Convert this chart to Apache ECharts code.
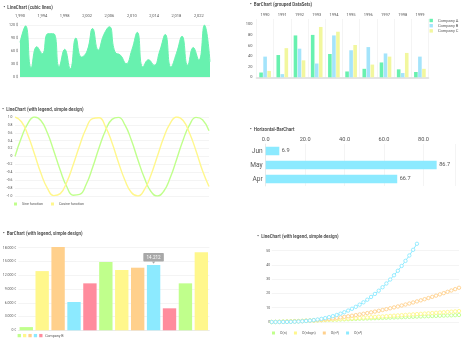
<!DOCTYPE html>
<html>
<head>
<meta charset="utf-8">
<script src="https://cdn.jsdelivr.net/npm/echarts@6/dist/echarts.min.js"></script>
<style>
  html, body { margin: 0; padding: 0; background: #ffffff; }
  #chart { width: 470px; height: 345px; }
</style>
</head>
<body>
<div id="chart"></div>
<script>
// ---- cubic area chart ----
const cubicYears = [1990, 1991, 1992, 1993, 1994, 1995, 1996, 1997, 1998, 1999,
  2000, 2001, 2002, 2003, 2004, 2005, 2006, 2007, 2008, 2009,
  2010, 2011, 2012, 2013, 2014, 2015, 2016, 2017, 2018, 2019,
  2020, 2021, 2022, 2023, 2024];
const cubicValues = [80, 118, 21, 70, 54, 100, 100, 24, 64, 19,
  90, 46, 60, 112, 62, 98, 116, 58, 50, 31,
  62, 103, 23, 40, 27, 60, 98, 23, 55, 94,
  27, 68, 39, 120, 35];

// ---- grouped bar chart ----
const groupYears = ['1990', '1991', '1992', '1993', '1994', '1995', '1996', '1997', '1998', '1999'];
const companyA = [9, 42, 79, 80, 44, 11, 16, 28, 15, 10];
const companyB = [39, 6, 54, 26, 79, 51, 57, 45, 8, 39];
const companyC = [12, 55, 32, 95, 86, 61, 24, 39, 46, 16];

// ---- sine / cosine ----
const waveX = [0, 0.5, 1, 1.5, 2, 2.5, 3, 3.5, 4, 4.5, 5, 5.5, 6, 6.5, 7, 7.5,
  8, 8.5, 9, 9.5, 10, 10.5, 11, 11.5, 12, 12.5, 13, 13.5, 14, 14.5, 15];
const sineValues = [0, 0.48, 0.84, 1.0, 0.91, 0.6, 0.14, -0.35, -0.76, -0.98, -0.96, -0.71,
  -0.28, 0.22, 0.66, 0.94, 0.99, 0.8, 0.41, -0.08, -0.54, -0.88, -1.0, -0.88,
  -0.54, -0.07, 0.42, 0.8, 0.99, 0.93, 0.65];
const cosineValues = [1.0, 0.88, 0.54, 0.07, -0.42, -0.8, -0.99, -0.94, -0.65, -0.21, 0.28, 0.71,
  0.96, 0.98, 0.75, 0.35, -0.15, -0.6, -0.91, -1.0, -0.84, -0.48, 0.0, 0.48,
  0.84, 1.0, 0.91, 0.59, 0.14, -0.36, -0.76];

// ---- horizontal bars ----
const monthNames = ['Apr', 'May', 'Jun'];
const monthValues = [66.7, 86.7, 6.9];

// ---- bar chart with legend ----
const salesSlots = ['1', '2', '3', '4', '5', '6', '7', '8', '9', '10', '11', '12'];
const salesValues = [700, 12900, 18140, 6170, 10230, 14880, 13140, 13640, 14212, 4790, 10230, 16980];
const highlightedSlot = 8;

// ---- complexity curves ----
const complexityN = [0, 1, 2, 3, 4, 5, 6, 7, 8, 9, 10, 11, 12, 13, 14, 15, 16, 17, 18, 19,
  20, 21, 22, 23, 24, 25, 26, 27, 28, 29, 30, 31, 32, 33, 34, 35, 36, 37, 38, 39,
  40, 41, 42, 43, 44, 45, 46, 47, 48, 49];
const linearValues = [0, 0.1, 0.2, 0.3, 0.4, 0.5, 0.6, 0.7, 0.8, 0.9, 1, 1.1, 1.2, 1.3, 1.4, 1.5,
  1.6, 1.7, 1.8, 1.9, 2, 2.1, 2.2, 2.3, 2.4, 2.5, 2.6, 2.7, 2.8, 2.9, 3, 3.1, 3.2, 3.3,
  3.4, 3.5, 3.6, 3.7, 3.8, 3.9, 4, 4.1, 4.2, 4.3, 4.4, 4.5, 4.6, 4.7, 4.8, 4.9];
const nlognValues = [0, 0, 0.06, 0.13, 0.22, 0.32, 0.43, 0.55, 0.67, 0.79, 0.92, 1.06, 1.19,
  1.33, 1.48, 1.63, 1.77, 1.93, 2.08, 2.24, 2.4, 2.56, 2.72, 2.89, 3.05, 3.22, 3.39,
  3.56, 3.73, 3.91, 4.08, 4.26, 4.44, 4.62, 4.8, 4.98, 5.16, 5.34, 5.53, 5.72, 5.9,
  6.09, 6.28, 6.47, 6.66, 6.85, 7.05, 7.24, 7.43, 7.63];
const squareValues = [0, 0.01, 0.04, 0.09, 0.16, 0.25, 0.36, 0.49, 0.64, 0.81, 1, 1.21, 1.44,
  1.69, 1.96, 2.25, 2.56, 2.89, 3.24, 3.61, 4, 4.41, 4.84, 5.29, 5.76, 6.25, 6.76,
  7.29, 7.84, 8.41, 9, 9.61, 10.24, 10.89, 11.56, 12.25, 12.96, 13.69, 14.44, 15.21,
  16, 16.81, 17.64, 18.49, 19.36, 20.25, 21.16, 22.09, 23.04, 24.01];
const cubeValues = [0, 0.001, 0.008, 0.027, 0.064, 0.125, 0.216, 0.343, 0.512, 0.729, 1,
  1.331, 1.728, 2.197, 2.744, 3.375, 4.096, 4.913, 5.832, 6.859, 8, 9.261, 10.648,
  12.167, 13.824, 15.625, 17.576, 19.683, 21.952, 24.389, 27, 29.791, 32.768, 35.937,
  39.304, 42.875, 46.656, 50.653, 54.872];
const complexityNames = ['O(n)', 'O(nlogn)', 'O(n\u00B2)', 'O(n\u00B3)'];

// palette
const GREEN = 'rgb(104,241,175)';
const BLUE = 'rgb(164,228,251)';
const YELLOW = 'rgb(242,247,158)';
const PASTEL = ['rgb(192,255,140)', 'rgb(255,247,140)', 'rgb(255,208,140)', 'rgb(140,234,255)', 'rgb(255,140,157)'];
const GRID_LINE = '#ececec';
const LABEL = '#555555';
const FONT = 'Roboto';

const pairs = (xs, ys) => ys.map((y, i) => [xs[i], y]);
const thousands = v => String(Math.round(v)).replace(/\B(?=(\d{3})+(?!\d))/g, '.');

const smallLabel = size => ({ fontSize: size, color: LABEL, fontFamily: FONT });

// section heading: left edge of the bullet and vertical centre of the line
const HEAD_SIZE = 4.5;
function heading(text, left, centerY) {
  return { text: '\u2022  ' + text, left, top: centerY - HEAD_SIZE * 0.65, padding: 0,
    textStyle: { fontSize: HEAD_SIZE, fontWeight: 600, color: '#444444', fontFamily: FONT } };
}

const option = {
  animation: false,
  backgroundColor: '#ffffff',
  textStyle: { fontFamily: FONT },
  title: [
    heading('LineChart (cubic lines)', 3.5, 8.3),
    heading('BarChart (grouped DataSets)', 250, 5.7),
    heading('LineChart (with legend, simple design)', 2.3, 110),
    heading('Horizontal-BarChart', 250, 130),
    heading('BarChart (with legend, simple design)', 3, 234.3),
    heading('LineChart (with legend, simple design)', 257.3, 237.7)
  ],
  grid: [
    { left: 20, top: 25, width: 190, height: 52, outerBoundsMode: 'none' },
    { left: 256.5, top: 19, width: 172, height: 58.3, outerBoundsMode: 'none' },
    { left: 15, top: 117, width: 194, height: 79, outerBoundsMode: 'none' },
    { left: 265.7, top: 144, width: 189.3, height: 42, outerBoundsMode: 'none' },
    { left: 18.3, top: 243.1, width: 191, height: 87.2, outerBoundsMode: 'none' },
    { left: 271.7, top: 243.6, width: 187.3, height: 78.4, outerBoundsMode: 'none' }
  ],
  legend: [
    { orient: 'vertical', left: 429.5, top: 18.5, icon: 'rect', itemWidth: 3.4, itemHeight: 3.4,
      itemGap: 1.2, padding: 0, textStyle: smallLabel(4),
      data: ['Company A', 'Company B', 'Company C'] },
    { left: 14, top: 202, icon: 'rect', itemWidth: 3, itemHeight: 3, itemGap: 8, padding: 0,
      textStyle: smallLabel(3.6), data: ['Sine function', 'Cosine function'] },
    { left: 272, top: 331, icon: 'rect', itemWidth: 3, itemHeight: 3, itemGap: 7, padding: 0,
      textStyle: smallLabel(3.6),
      data: complexityNames.map((name, i) => ({
        name, itemStyle: { color: PASTEL[i], borderWidth: 0 } })) }
  ],
  xAxis: [
    // 0: years on top
    { gridIndex: 0, type: 'value', position: 'top', min: 1990, max: 2024, interval: 4,
      axisLine: { show: false }, axisTick: { show: false }, splitLine: { show: false },
      axisLabel: Object.assign(smallLabel(4), { margin: 7.5, showMaxLabel: false }) },
    // 1: grouped bar categories
    { gridIndex: 1, type: 'category', position: 'top', data: groupYears,
      axisLine: { show: false }, axisTick: { show: false },
      splitLine: { show: true, interval: 0, lineStyle: { color: GRID_LINE, width: 0.6 } },
      axisLabel: Object.assign(smallLabel(4), { margin: 2, interval: 0 }) },
    // 2: baseline under the grouped bars
    { gridIndex: 1, type: 'category', position: 'bottom', data: groupYears,
      axisLine: { show: true, lineStyle: { color: '#dcdcdc', width: 1.6 } },
      axisTick: { show: false }, axisLabel: { show: false }, splitLine: { show: false } },
    // 3: wave x
    { gridIndex: 2, type: 'value', min: 0, max: 15, show: false },
    // 4: horizontal bar values
    { gridIndex: 3, type: 'value', position: 'top', min: 0, max: 96, interval: 20,
      axisLine: { show: false }, axisTick: { show: false },
      splitLine: { show: true, lineStyle: { color: GRID_LINE, width: 0.6 } },
      axisLabel: Object.assign(smallLabel(5.6), { margin: 1, showMaxLabel: false,
        formatter: v => v.toFixed(1) }) },
    // 5: sales slots
    { gridIndex: 4, type: 'category', data: salesSlots,
      axisLine: { show: true, lineStyle: { color: '#e4e4e4', width: 0.6 } },
      axisTick: { show: false }, axisLabel: { show: false } },
    // 6: complexity n
    { gridIndex: 5, type: 'value', min: 0, max: 49, show: false }
  ],
  yAxis: [
    { gridIndex: 0, type: 'value', min: 0, max: 120, interval: 30,
      axisLine: { show: false }, axisTick: { show: false },
      splitLine: { lineStyle: { color: GRID_LINE, width: 0.6 } },
      axisLabel: Object.assign(smallLabel(3.6), { margin: 2, formatter: v => v + ' $' }) },
    { gridIndex: 1, type: 'value', min: 0, max: 110, interval: 20,
      axisLine: { show: false }, axisTick: { show: false }, splitLine: { show: false },
      axisLabel: Object.assign(smallLabel(4), { margin: 4, showMaxLabel: false }) },
    { gridIndex: 2, type: 'value', min: -1, max: 1, interval: 0.2,
      axisLine: { show: false }, axisTick: { show: false },
      splitLine: { lineStyle: { color: GRID_LINE, width: 0.6 } },
      axisLabel: Object.assign(smallLabel(3.4), { margin: 2.5,
        formatter: v => (Math.abs(v) < 1e-9 ? '0' : v.toFixed(1)) }) },
    { gridIndex: 3, type: 'category', data: monthNames,
      axisLine: { show: true, lineStyle: { color: '#e0e0e0', width: 0.6 } },
      axisTick: { show: false },
      splitLine: { show: false },
      axisLabel: Object.assign(smallLabel(6.6), { margin: 3 }) },
    { gridIndex: 4, type: 'value', min: 0, max: 19000, interval: 3000,
      axisLine: { show: false }, axisTick: { show: false },
      splitLine: { showMaxLine: false, lineStyle: { color: GRID_LINE, width: 0.6 } },
      axisLabel: Object.assign(smallLabel(3.5), { margin: 2, showMaxLabel: false,
        formatter: v => thousands(v) + ' \u20AC' }) },
    { gridIndex: 5, type: 'value', min: 0, max: 55, interval: 10,
      axisLine: { show: false }, axisTick: { show: false },
      splitLine: { showMaxLine: false, lineStyle: { color: GRID_LINE, width: 0.6 } },
      axisLabel: Object.assign(smallLabel(3.5), { margin: 1.5, showMaxLabel: false }) }
  ],
  series: [
    // cubic area
    { type: 'line', xAxisIndex: 0, yAxisIndex: 0, data: pairs(cubicYears, cubicValues),
      smooth: 0.5, symbol: 'none', lineStyle: { color: GREEN, width: 1 },
      areaStyle: { color: GREEN, opacity: 1 } },
    // grouped bars
    { type: 'bar', name: 'Company A', xAxisIndex: 1, yAxisIndex: 1, data: companyA,
      itemStyle: { color: GREEN }, barWidth: 3.6, barGap: '12%' },
    { type: 'bar', name: 'Company B', xAxisIndex: 1, yAxisIndex: 1, data: companyB,
      itemStyle: { color: BLUE }, barWidth: 3.6, barGap: '12%' },
    { type: 'bar', name: 'Company C', xAxisIndex: 1, yAxisIndex: 1, data: companyC,
      itemStyle: { color: YELLOW }, barWidth: 3.6, barGap: '12%' },
    // waves
    { type: 'line', name: 'Sine function', xAxisIndex: 3, yAxisIndex: 2,
      data: pairs(waveX, sineValues), smooth: true, symbol: 'none',
      itemStyle: { color: PASTEL[0] }, lineStyle: { color: PASTEL[0], width: 1.4 } },
    { type: 'line', name: 'Cosine function', xAxisIndex: 3, yAxisIndex: 2,
      data: pairs(waveX, cosineValues), smooth: true, symbol: 'none',
      itemStyle: { color: PASTEL[1] }, lineStyle: { color: PASTEL[1], width: 1.4 } },
    // horizontal bars
    { type: 'bar', xAxisIndex: 4, yAxisIndex: 3, data: monthValues, barWidth: 8.5,
      itemStyle: { color: PASTEL[3] },
      label: { show: true, position: 'right', distance: 2.5, fontSize: 5.6, color: LABEL,
        fontFamily: FONT, formatter: p => p.value.toFixed(1) } },
    // sales bars
    { type: 'bar', name: 'Company B', xAxisIndex: 5, yAxisIndex: 4, barCategoryGap: '16%',
      data: salesValues.map((v, i) => i === highlightedSlot ? {
        value: v,
        label: { show: true, position: 'top', distance: 3.5, formatter: p => thousands(p.value),
          color: '#ffffff', fontSize: 4.6, fontFamily: FONT, backgroundColor: '#a8a8a8',
          padding: [2, 3.2, 1.6, 3.2], borderRadius: 0.8 }
      } : v),
      itemStyle: { color: p => PASTEL[p.dataIndex % PASTEL.length] },
      markPoint: { silent: true, symbol: 'triangle', symbolRotate: 180, symbolSize: [3.2, 2.4],
        symbolOffset: [0, -2.4], itemStyle: { color: '#a8a8a8' }, label: { show: false },
        data: [{ coord: [highlightedSlot, salesValues[highlightedSlot]] }] } },
    // complexity curves
    ...[linearValues, nlognValues, squareValues, cubeValues].map((vals, i) => ({
      type: 'line', name: complexityNames[i],
      xAxisIndex: 6, yAxisIndex: 5, data: pairs(complexityN, vals),
      symbol: 'circle', symbolSize: 3.4, showAllSymbol: true,
      lineStyle: { color: PASTEL[i], width: 1 },
      itemStyle: { color: '#ffffff', borderColor: PASTEL[i], borderWidth: 0.9 },
      z: 2 + i
    }))
  ],
  graphic: [
    {
      type: 'group', left: 17.6, top: 333.6,
      children: PASTEL.map((c, i) => ({
        type: 'rect', shape: { x: i * 5.4, y: 0, width: 3.3, height: 3.3 }, style: { fill: c }
      })).concat([{
        type: 'text', x: 5 * 5.4 + 0.6, y: 1.65,
        style: { text: 'Company B', fill: LABEL, fontSize: 3.6, fontFamily: FONT, verticalAlign: 'middle' }
      }])
    }
  ]
};

const chart = echarts.init(document.getElementById('chart'), null, { renderer: 'canvas' });
chart.setOption(option);
</script>
</body>
</html>
